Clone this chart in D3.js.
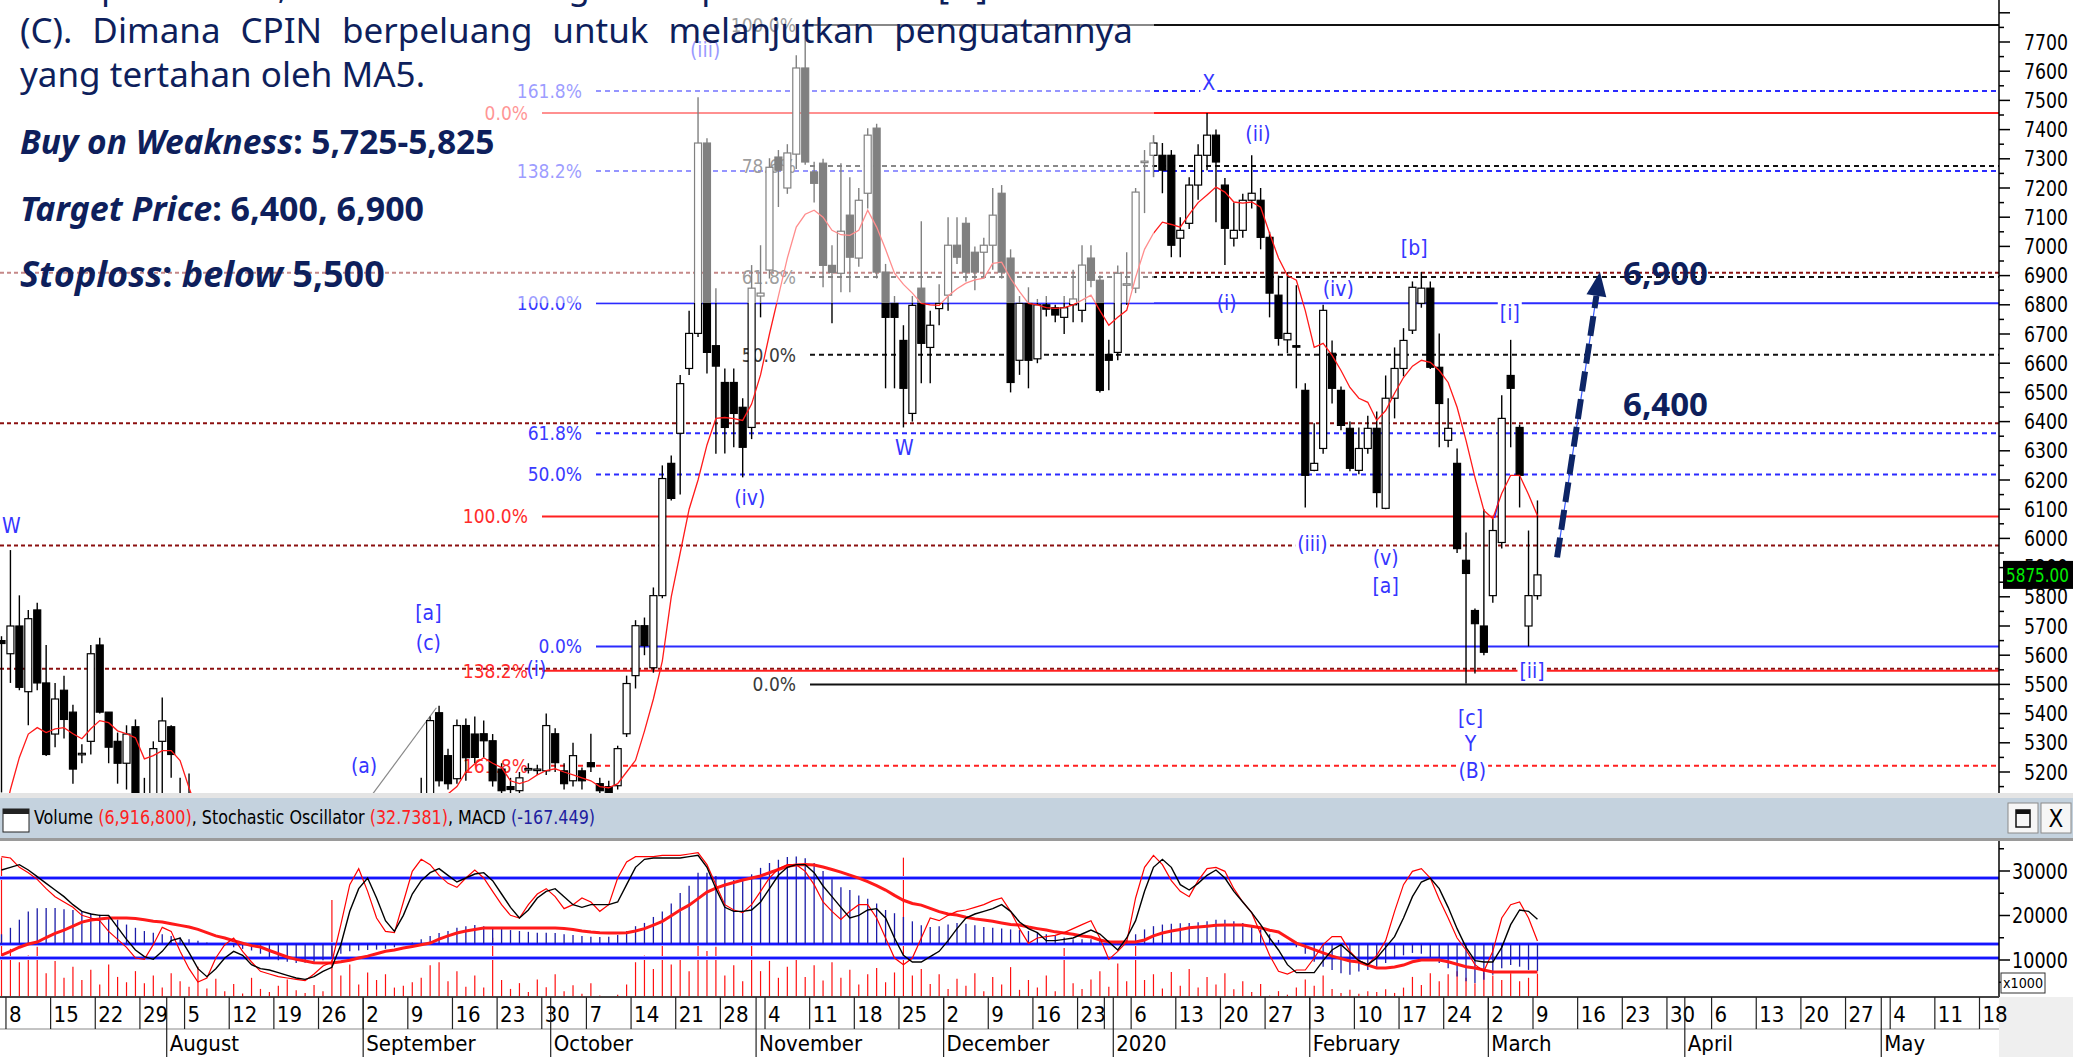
<!DOCTYPE html>
<html>
<head>
<meta charset="utf-8">
<script src="https://cdn.jsdelivr.net/npm/d3@7"></script>
<style>
  html, body { margin: 0; padding: 0; background: #fff; overflow: hidden; }
  svg { display: block; }
  text { white-space: pre; }
</style>
</head>
<body>
<svg id="chart" width="2073" height="1057"></svg>
<script>
// CPIN daily candles, 5 Jul 2019 .. 9 Mar 2020 (one value per trading day)
const open = [5650,5605,5700,5475,5755,5505,5330,5480,5405,5260,
  5305,5635,5405,5305,5230,5355,5110,5100,5305,5355,
  5100,5120,5030,4980,4930,5020,4990,5050,4970,4920,
  4950,4900,4870,4900,4860,4830,4850,4900,4980,5020,
  5060,5060,5080,5040,5010,5000,5060,5080,5110,5403,
  5256,5177,5359,5330,5331,5307,5210,5150,5136,5210,
  5205,5204,5331,5204,5170,5204,5232,5160,5150,5153,
  5331,5530,5701,5557,5804,6257,6360,6582,6702,7354,
  6660,6534,6534,6449,6380,6830,6919,7306,7200,7316,
  7611,7255,7285,6935,6908,7107,6960,7182,7405,6912,
  6805,6678,6428,6857,6654,6787,6833,7004,7079,6980,
  6980,7004,7182,6960,6610,6805,6615,6800,6790,6757,
  6800,6781,6960,6884,6630,6637,6867,6857,7288,7312,
  7312,7312,7028,7079,7210,7312,7381,7210,7028,7055,
  7158,7158,7031,6833,6680,6660,6507,6233,6308,6634,
  6507,6377,6233,6308,6377,6103,6480,6582,6713,6805,
  6857,6586,6336,6257,5925,5753,5700,5804,5986,6558,
  6380,5700,5804];
const high = [5665,5960,5805,5755,5780,5635,5505,5530,5430,5295,
  5635,5660,5405,5335,5360,5380,5180,5305,5455,5360,
  5180,5195,5080,5020,5050,5060,5080,5070,5000,4980,
  4990,4950,4920,4940,4900,4880,4920,5000,5050,5080,
  5110,5110,5110,5090,5060,5080,5110,5180,5390,5427,
  5280,5380,5383,5390,5376,5330,5230,5180,5200,5230,
  5225,5400,5350,5230,5300,5215,5331,5180,5170,5290,
  5530,5720,5729,5832,6250,6284,6560,6780,7511,7370,
  6857,6582,6582,6480,6936,7004,7302,7330,7350,7655,
  7758,7290,7300,7004,7285,7237,7200,7405,7420,6940,
  6830,6730,6830,7086,6780,6870,7100,7100,7100,7000,
  7030,7200,7210,6990,6830,6860,6820,6830,6800,6830,
  6920,7004,7004,6900,6680,6935,6980,7200,7330,7381,
  7354,7330,7100,7237,7350,7457,7400,7234,7150,7180,
  7312,7200,7050,6900,6912,6867,6531,6394,6800,6678,
  6520,6400,6380,6420,6435,6558,6654,6720,6880,6912,
  6880,6702,6480,6308,6020,5760,6100,6068,6490,6680,
  6390,6027,6130];
const low = [5130,5505,5480,5360,5480,5255,5285,5315,5160,5230,
  5260,5400,5230,5160,5140,5120,5050,5080,5100,5180,
  5050,5000,4950,4900,4920,4960,4980,4950,4900,4870,
  4880,4850,4820,4850,4800,4790,4820,4880,4950,4980,
  5040,5000,5020,4990,4970,4980,5040,5050,5100,5150,
  5140,5160,5170,5230,5250,5150,5100,5100,5120,5195,
  5190,5190,5200,5140,5150,5140,5200,5120,5110,5140,
  5320,5486,5600,5540,5795,6130,6150,6560,6690,6565,
  6290,6291,6312,6209,6340,6757,6890,7135,7180,7265,
  7280,7150,6860,6737,6843,6843,6930,7130,6890,6514,
  6514,6380,6400,6531,6531,6730,6780,6940,6880,6850,
  6890,6920,6890,6500,6560,6514,6600,6760,6740,6700,
  6740,6740,6860,6500,6507,6610,6800,6840,7114,7237,
  7182,6963,6963,7060,7160,7261,7083,6936,7000,7030,
  7130,6990,6757,6660,6634,6514,6106,6230,6290,6462,
  6370,6230,6220,6290,6106,6100,6411,6555,6700,6790,
  6580,6312,6312,5950,5503,5537,5600,5780,5965,6312,
  6106,5630,5790];
const close = [5640,5700,5490,5725,5505,5260,5450,5380,5210,5264,
  5605,5405,5285,5230,5330,5130,5100,5280,5375,5260,
  5080,5030,4980,4930,5020,4990,5050,4970,4920,4950,
  4900,4870,4900,4860,4830,4850,4900,4980,5020,5060,
  5090,5080,5040,5010,5000,5060,5090,5100,5376,5170,
  5160,5359,5249,5250,5307,5170,5136,5140,5180,5212,
  5210,5359,5232,5160,5256,5170,5218,5136,5125,5280,
  5503,5701,5633,5804,6205,6137,6530,6702,7354,6637,
  6590,6380,6428,6312,6857,6840,7271,7261,7320,7611,
  7289,7216,6935,6911,7052,6963,7158,7381,6912,6757,
  6757,6514,6798,6668,6730,6805,7004,6963,6912,6912,
  7004,7107,6912,6534,6805,6610,6800,6785,6765,6790,
  6820,6936,6884,6507,6610,6908,6872,7186,7292,7354,
  7261,7004,7055,7210,7312,7381,7289,7062,7055,7158,
  7182,7031,6840,6685,6702,6657,6216,6257,6781,6514,
  6387,6240,6308,6377,6157,6480,6582,6678,6860,6857,
  6586,6462,6377,5965,5880,5708,5610,6027,6411,6514,
  6216,5804,5875];
// red line drawn over the candles (MA5 as plotted)
const ma5 = [5000,5140,5250,5330,5352,5335,5348,5352,5331,5314,
  5348,5376,5369,5341,5331,5317,5245,5256,5273,5273,
  5239,5146,5060,5010,4990,4980,4990,4995,4980,4965,
  4955,4920,4900,4885,4875,4860,4870,4895,4940,4980,
  5020,5055,5065,5060,5045,5040,5050,5060,5100,5110,
  5125,5150,5200,5228,5249,5230,5215,5170,5160,5170,
  5190,5205,5211,5200,5190,5180,5170,5150,5146,5160,
  5200,5240,5340,5450,5580,5800,5950,6100,6200,6320,
  6411,6414,6410,6404,6460,6560,6700,6830,6960,7066,
  7110,7124,7100,7055,7040,7038,7055,7124,7066,6990,
  6908,6870,6840,6805,6800,6798,6830,6855,6874,6885,
  6891,6942,6946,6890,6845,6805,6800,6790,6788,6790,
  6800,6816,6833,6780,6730,6757,6781,6894,6990,7045,
  7083,7075,7066,7110,7150,7176,7203,7186,7152,7148,
  7152,7134,7045,6960,6900,6884,6780,6654,6668,6627,
  6575,6517,6480,6466,6404,6438,6497,6551,6590,6610,
  6603,6575,6534,6449,6336,6209,6096,6068,6154,6216,
  6216,6150,6078];
// volume in thousands of shares
const volume = [33000,12500,9500,11000,13000,7000,9800,6000,8500,5500,
  7800,4500,9000,6200,5000,7500,4800,6500,3800,7000,
  5200,4000,8500,3600,5800,3000,4600,2500,6000,3500,
  2800,4200,5600,3200,2600,4400,3000,23500,6500,9000,
  4500,7200,5500,6800,3800,4200,5000,6000,8800,9500,
  5200,7500,4000,6500,3800,15000,5500,3500,4800,2800,
  5600,3900,6800,3000,4300,2400,4800,2000,1800,2200,
  4500,9500,11000,8000,13800,9000,10500,7500,14000,12000,
  13000,6500,8800,5200,13800,7500,9800,6000,8500,10700,
  6200,8800,5400,9500,6000,7800,4500,6800,8200,5000,
  7200,33000,6500,8000,4600,6800,3500,5800,4200,7000,
  3000,6200,4500,8400,3300,5500,3800,6500,3000,12700,
  4800,3500,5600,7500,4000,9200,5200,14000,5500,6800,
  3600,7300,4200,8000,3800,6200,4500,7000,3400,5200,
  2800,4600,2000,3000,2200,3800,5600,4200,6500,3500,
  2600,3300,2400,3000,2800,3400,2600,3800,6200,4400,
  7000,5200,6800,7500,6000,4800,7200,6500,5500,7000,
  5200,6000,6917];
const stochK = [96,95,88,84,79,72,66,62,58,52,
  50,48,40,34,28,20,19,30,43,40,
  25,12,2,5,20,30,35,25,17,10,
  8,6,5,4,3,8,14,17,45,75,
  87,70,50,40,39,62,85,94,90,82,
  76,73,80,86,80,70,60,52,50,60,
  68,72,66,57,60,65,62,55,60,80,
  92,96,96,96,97,97,97,98,99,90,
  75,60,56,54,60,70,80,87,90,90,
  85,75,62,55,49,55,60,60,50,35,
  20,15,20,35,50,48,52,55,56,58,
  60,63,65,55,42,31,35,36,37,39,
  42,45,48,35,19,25,32,65,88,97,
  90,78,70,66,78,87,88,85,72,62,
  54,38,22,10,8,11,11,20,30,36,
  36,25,18,15,22,33,55,75,85,87,
  80,64,50,35,26,15,10,25,50,60,
  62,50,32.7];
const stochD = [86,88,90,86,81,76,71,66,60,55,
  53,52,52,43,34,26,21,19,25,33,
  35,24,12,6,12,20,25,22,15,12,
  11,9,7,5,4,6,10,13,30,55,
  72,80,65,48,40,52,68,78,84,87,
  82,77,80,83,84,78,68,58,50,56,
  65,70,72,66,60,58,60,60,60,62,
  75,88,94,95,95,95,95,96,97,88,
  72,58,55,55,56,62,72,82,88,90,
  90,84,74,66,58,50,52,56,57,50,
  35,22,17,17,21,25,33,42,50,53,
  55,57,60,55,47,42,39,33,33,34,
  35,38,41,38,32,26,35,48,70,88,
  94,88,75,71,76,82,86,80,70,62,
  54,45,35,26,15,9,9,9,18,26,
  30,24,18,15,20,28,36,50,66,77,
  80,72,58,42,28,18,17,17,28,45,
  56,55,49];
const macd = [60,100,150,200,220,222,222,215,210,200,
  190,180,170,150,120,100,80,70,60,50,
  40,30,20,10,0,-10,-20,-30,-40,-60,
  -80,-100,-110,-117,-115,-110,-100,-80,-60,-45,
  -40,-37,-35,-30,-20,-5,10,30,50,68,
  80,100,110,117,110,100,95,86,80,75,
  70,70,68,60,55,50,45,43,45,55,
  80,110,130,167,200,250,315,360,440,440,
  420,400,395,400,430,470,500,520,537,540,
  530,500,450,400,350,333,300,280,250,210,
  190,167,140,115,105,110,120,130,125,115,
  105,100,95,90,86,80,70,60,50,40,
  30,30,30,25,20,15,25,60,90,110,
  120,125,128,130,135,140,150,150,140,130,
  110,90,60,25,5,-20,-60,-110,-140,-160,
  -180,-190,-170,-160,-140,-117,-90,-70,-55,-60,
  -80,-117,-150,-200,-230,-240,-220,-190,-150,-130,
  -140,-160,-167];
const signal = [-68,-45,-20,0,12,40,65,86,110,135,
  148,155,160,160,160,158,150,140,136,125,
  115,105,90,70,50,37,20,5,-10,-19,
  -40,-60,-80,-95,-105,-115,-117,-117,-110,-100,
  -86,-75,-60,-45,-37,-25,-15,-5,6,30,
  50,68,80,90,99,99,99,99,99,99,
  99,99,99,95,90,80,74,70,68,68,
  70,80,95,117,140,175,210,240,280,320,
  345,364,380,395,407,420,440,460,480,488,
  490,488,475,460,444,425,407,385,360,333,
  300,270,250,240,220,200,185,179,165,155,
  148,140,130,120,117,105,95,86,75,68,
  60,50,43,25,12,12,12,12,25,50,
  68,80,90,100,105,110,115,117,117,117,
  110,100,85,74,40,6,-15,-35,-55,-75,
  -90,-105,-111,-130,-148,-148,-142,-130,-110,-99,
  -99,-99,-110,-125,-140,-148,-160,-173,-173,-173,
  -173,-173,-173];

// fibonacci / support-resistance levels
const blueFibLabels = ['161.8%', '138.2%', '100.0%', '61.8%', '50.0%', '0.0%'];
const blueFibLevels = [7532, 7258, 6805, 6360, 6219, 5630];
const redFibLabels = ['0.0%', '100.0%', '138.2%', '161.8%'];
const redFibLevels = [7457, 6075, 5547, 5221];
const blackFibLabels = ['100.0%', '78.6%', '61.8%', '50.0%', '0.0%'];
const blackFibLevels = [7758, 7275, 6895, 6629, 5500];
const stopLevels = [6910, 6394, 5976, 5554];

// elliott wave labels (bar index, price)
const waveText = ['W', '[a]', '(c)', '(a)', '(i)', '(iii)', '(iv)', 'W', 'X', '(ii)', '(i)', '(iv)', '[b]', '[i]', '(iii)', '(v)', '[a]', '[c]', 'Y', '(B)', '[ii]'];
const waveIdx = [1.1, 47.8, 47.8, 40.6, 59.9, 78.8, 83.8, 101.1, 135.2, 140.7, 137.2, 149.7, 158.2, 168.9, 146.8, 155, 155, 164.5, 164.5, 164.7, 171.4];
const wavePrice = [6044, 5746, 5643, 5222, 5554, 7676, 6140, 6312, 7563, 7388, 6809, 6857, 6997, 6774, 5983, 5935, 5839, 5386, 5297, 5204, 5547];

const priceTicks = d3.range(5200, 7701, 100);
const volTicks = [10000, 20000, 30000];
const holidays = ['2019-12-24', '2019-12-25', '2019-12-31', '2020-01-01'];
const monthNames = ['2020', 'February', 'March', 'April', 'May', 'June', 'July', 'August', 'September', 'October', 'November', 'December'];
const lastPrice = 5875;
const targets = ['6,900', '6,400'];
const targetLevels = [6910, 6460];

// ---------- layout ----------
const W = 2073, H = 1057;
const plotRight = 1999;
const priceBottom = 793;
const indTop = 841, indBottom = 997;
const NAVY = '#0e1f5c';
const NARROW = "'Liberation Sans Narrow', 'Arial Narrow', 'DejaVu Sans Condensed', sans-serif";
const NOTE = "'Noto Sans', 'Open Sans', sans-serif";
const STEP = 8.93;

function buildTradingDays(from, to, skip) {
  const out = [];
  const d = new Date(from + 'T00:00:00Z');
  const end = new Date(to + 'T00:00:00Z');
  while (d <= end) {
    const wd = d.getUTCDay();
    const s = d.toISOString().slice(0, 10);
    if (wd !== 0 && wd !== 6 && !skip.includes(s)) out.push(s);
    d.setUTCDate(d.getUTCDate() + 1);
  }
  return out;
}
const days = buildTradingDays('2019-07-01', '2020-05-19', holidays);
const firstBar = days.indexOf('2019-07-05');

const x = d3.scaleLinear().domain([0, 1]).range([1.5, 1.5 + STEP]);
const y = d3.scaleLinear().domain([5200, 7700]).range([772, 42]);
const yVol = d3.scaleLinear().domain([0, 30000]).range([1004.5, 871]);
const yStoch = d3.scaleLinear().domain([20, 80]).range([958, 878]);
const yMacd = d3.scaleLinear().domain([0, 100]).range([944, 927.8]);

const bars = open.map((o, i) => ({ i, o, h: high[i], l: low[i], c: close[i] }));

const svg = d3.select('#chart');
const defs = svg.append('defs');
defs.append('clipPath').attr('id', 'clipPrice').append('rect')
  .attr('x', 0).attr('y', 0).attr('width', plotRight).attr('height', priceBottom);
defs.append('clipPath').attr('id', 'clipInd').append('rect')
  .attr('x', 0).attr('y', indTop).attr('width', plotRight).attr('height', indBottom - indTop);

svg.append('rect').attr('width', W).attr('height', H).attr('fill', '#fff');

// ---------- price panel ----------
const gP = svg.append('g').attr('clip-path', 'url(#clipPrice)');

gP.append('g').selectAll('line').data(stopLevels).join('line')
  .attr('x1', 0).attr('x2', plotRight)
  .attr('y1', d => y(d)).attr('y2', d => y(d))
  .attr('stroke', '#8b1010').attr('stroke-width', 2).attr('stroke-dasharray', '4,3');

function fibSet(labels, levels, lineColor, textColor, x0, labelEnd, solidLabels) {
  const g = gP.append('g');
  g.selectAll('line').data(levels).join('line')
    .attr('x1', x0).attr('x2', plotRight)
    .attr('y1', d => y(d)).attr('y2', d => y(d))
    .attr('stroke', lineColor).attr('stroke-width', 2)
    .attr('stroke-dasharray', (d, k) => solidLabels.includes(labels[k]) ? null : '5,4');
  g.selectAll('text').data(levels).join('text')
    .attr('x', labelEnd).attr('y', d => y(d)).attr('dy', '0.36em')
    .attr('text-anchor', 'end').attr('fill', textColor)
    .style('font-family', NARROW).style('font-size', '19px')
    .text((d, k) => labels[k]);
}
fibSet(blueFibLabels, blueFibLevels, '#2b2bff', '#3a3aff', 596, 582, ['100.0%', '0.0%']);
fibSet(redFibLabels, redFibLevels, '#ff2020', '#ff2b2b', 542, 528, ['0.0%', '100.0%', '138.2%']);
fibSet(blackFibLabels, blackFibLevels, '#111', '#3a3a3a', 810, 796, ['100.0%', '0.0%']);

// trend lines
gP.append('line')
  .attr('x1', x(40)).attr('y1', y(5060)).attr('x2', x(48.7)).attr('y2', y(5420))
  .attr('stroke', '#888').attr('stroke-width', 1.2);
gP.append('line')
  .attr('x1', x(167.2)).attr('y1', y(6070)).attr('x2', x(168.3)).attr('y2', y(6215))
  .attr('stroke', '#2b2bff').attr('stroke-width', 1.5);

// candles
const gC = gP.append('g');
gC.selectAll('line').data(bars).join('line')
  .attr('x1', d => x(d.i)).attr('x2', d => x(d.i))
  .attr('y1', d => y(d.h)).attr('y2', d => y(d.l))
  .attr('stroke', '#000').attr('stroke-width', 1.4);
gC.selectAll('rect').data(bars).join('rect')
  .attr('x', d => x(d.i) - 3.5).attr('width', 7)
  .attr('y', d => y(Math.max(d.o, d.c)))
  .attr('height', d => Math.max(1.5, Math.abs(y(d.o) - y(d.c))))
  .attr('fill', d => d.c >= d.o ? '#fff' : '#000')
  .attr('stroke', '#000').attr('stroke-width', 1.2);

gP.append('path').datum(ma5)
  .attr('d', d3.line().x((d, i) => x(i)).y(d => y(d)))
  .attr('fill', 'none').attr('stroke', '#ff1a1a').attr('stroke-width', 1.3);

// wave labels
const waves = waveText.map((t, k) => ({ t, i: waveIdx[k], p: wavePrice[k], bg: t !== '(i)' }));
const gW = gP.append('g').style('font-family', NARROW).style('font-size', '21px');
waves.forEach(w => {
  const t = gW.append('text').attr('x', x(w.i)).attr('y', y(w.p)).attr('dy', '0.36em')
    .attr('text-anchor', 'middle').attr('fill', '#3535ff').text(w.t);
  if (w.bg) {
    const b = t.node().getBBox();
    gW.insert('rect', () => t.node())
      .attr('x', b.x - 2).attr('y', b.y + 1).attr('width', b.width + 4).attr('height', b.height - 2)
      .attr('fill', '#fff');
  }
});

// translucent note box
svg.append('rect').attr('x', 0).attr('y', 0).attr('width', 1154).attr('height', 303)
  .attr('fill', '#fff').attr('fill-opacity', 0.5);

// target arrow
const a0 = [x(174.2), y(5935)], a1 = [x(179), y(6912)];
const len = Math.hypot(a1[0] - a0[0], a1[1] - a0[1]);
const ux = (a1[0] - a0[0]) / len, uy = (a1[1] - a0[1]) / len;
const hb = [a1[0] - 24 * ux, a1[1] - 24 * uy];
svg.append('line').attr('x1', a0[0]).attr('y1', a0[1]).attr('x2', hb[0]).attr('y2', hb[1])
  .attr('stroke', '#3a5cff').attr('stroke-width', 1.2);
svg.append('line').attr('x1', a0[0]).attr('y1', a0[1]).attr('x2', hb[0]).attr('y2', hb[1])
  .attr('stroke', '#0d2566').attr('stroke-width', 6).attr('stroke-dasharray', '20,8');
svg.append('path')
  .attr('d', `M${a1[0]},${a1[1]}L${hb[0] - 10 * uy},${hb[1] + 10 * ux}L${hb[0] + 10 * uy},${hb[1] - 10 * ux}Z`)
  .attr('fill', '#0d2566');

svg.append('g').selectAll('text').data(targets).join('text')
  .attr('x', 1623).attr('y', (d, k) => y(targetLevels[k])).attr('dy', '0.36em')
  .attr('fill', NAVY).style('font-family', NOTE)
  .style('font-size', '33px').style('font-weight', 700).text(d => d);

// ---------- note text ----------
const gN = svg.append('g').attr('fill', NAVY).style('font-family', NOTE);
function justified(str, x0, x1, base) {
  const t = gN.append('text').attr('x', x0).attr('y', base).style('font-size', '35px').text(str);
  const w = t.node().getComputedTextLength();
  t.attr('word-spacing', (x1 - x0 - w) / (str.split(' ').length - 1));
}
justified('Kami perkirakan, saat ini CPIN sedang berada pada awal wave [iii] dari wave', 20, 1133, -1);
justified('(C). Dimana CPIN berpeluang untuk melanjutkan penguatannya', 20, 1133, 43);
gN.append('text').attr('x', 20).attr('y', 87).style('font-size', '35px').text('yang tertahan oleh MA5.');
function rich(parts, base, size) {
  const t = gN.append('text').attr('x', 20).attr('y', base).style('font-size', size + 'px').style('font-weight', 700);
  parts.forEach(([s, it]) => t.append('tspan').style('font-style', it ? 'italic' : 'normal').text(s));
}
rich([['Buy on Weakness', 1], [': 5,725-5,825', 0]], 154, 33.5);
rich([['Target Price', 1], [': 6,400, 6,900', 0]], 221, 34);
rich([['Stoploss', 1], [': ', 0], ['below', 1], [' 5,500', 0]], 287, 36);

// ---------- price axis ----------
const gA = svg.append('g').style('font-family', NARROW);
gA.append('line').attr('x1', plotRight).attr('x2', plotRight).attr('y1', 0).attr('y2', priceBottom)
  .attr('stroke', '#000').attr('stroke-width', 1.5);
gA.selectAll('line.t').data(d3.range(5150, 7801, 50)).join('line')
  .attr('x1', plotRight).attr('x2', d => plotRight + (d % 100 === 0 ? 11 : 5))
  .attr('y1', d => y(d)).attr('y2', d => y(d)).attr('stroke', '#000').attr('stroke-width', 1.5);
gA.selectAll('text').data(priceTicks).join('text')
  .attr('x', 2024).attr('y', d => y(d)).attr('dy', '0.36em').style('font-size', '21px')
  .attr('textLength', 44).attr('lengthAdjust', 'spacingAndGlyphs').text(d => d);
gA.append('rect').attr('x', 2003).attr('y', y(lastPrice) - 14).attr('width', 70).attr('height', 28).attr('fill', '#000');
gA.append('text').attr('x', 2006).attr('y', y(lastPrice)).attr('dy', '0.36em')
  .attr('fill', '#00ee00').style('font-size', '20px')
  .attr('textLength', 63).attr('lengthAdjust', 'spacingAndGlyphs').text(lastPrice.toFixed(2));

// ---------- indicator header ----------
svg.append('rect').attr('x', 0).attr('y', priceBottom).attr('width', W).attr('height', 5).attr('fill', '#e4e4e4');
svg.append('rect').attr('x', 0).attr('y', 798).attr('width', W).attr('height', 40).attr('fill', '#c4d2de');
svg.append('rect').attr('x', 0).attr('y', 838).attr('width', W).attr('height', 3).attr('fill', '#9a9a9a');
svg.append('rect').attr('x', 3).attr('y', 809).attr('width', 26).attr('height', 23).attr('fill', '#fff').attr('stroke', '#222');
svg.append('rect').attr('x', 3).attr('y', 809).attr('width', 26).attr('height', 5).attr('fill', '#222');
const hdr = svg.append('text').attr('x', 34).attr('y', 824).style('font-family', NARROW).style('font-size', '20px')
  .attr('textLength', 561).attr('lengthAdjust', 'spacingAndGlyphs');
[['Volume ', '#000'], ['(6,916,800)', '#ff2020'], [', Stochastic Oscillator ', '#000'], ['(32.7381)', '#ff2020'],
 [', MACD ', '#000'], ['(-167.449)', '#2020a0']].forEach(([s, c]) => hdr.append('tspan').attr('fill', c).text(s));
[2008, 2041].forEach((bx, k) => {
  svg.append('rect').attr('x', bx).attr('y', 803).attr('width', 30).attr('height', 30)
    .attr('fill', '#f6f6f6').attr('stroke', '#8a8a8a');
  if (k === 0) {
    svg.append('rect').attr('x', bx + 8).attr('y', 810).attr('width', 14).attr('height', 17).attr('fill', 'none').attr('stroke', '#111').attr('stroke-width', 1.5);
    svg.append('rect').attr('x', bx + 8).attr('y', 810).attr('width', 14).attr('height', 4).attr('fill', '#111');
  } else {
    svg.append('text').attr('x', bx + 15).attr('y', 827).attr('text-anchor', 'middle')
      .style('font-family', NARROW).style('font-size', '24px').text('X');
  }
});

// ---------- indicator panel ----------
const gI = svg.append('g').attr('clip-path', 'url(#clipInd)');
gI.append('g').selectAll('line').data(volume).join('line')
  .attr('x1', (d, i) => x(i)).attr('x2', (d, i) => x(i))
  .attr('y1', indBottom).attr('y2', d => yVol(d))
  .attr('stroke', '#ff1010').attr('stroke-width', 1.2);
[yStoch(80), yMacd(0), yStoch(20)].forEach(ly => {
  gI.append('line').attr('x1', 0).attr('x2', plotRight).attr('y1', ly).attr('y2', ly)
    .attr('stroke', '#9a9aff').attr('stroke-width', 4);
  gI.append('line').attr('x1', 0).attr('x2', plotRight).attr('y1', ly).attr('y2', ly)
    .attr('stroke', '#1414ff').attr('stroke-width', 2);
});
gI.append('g').selectAll('line').data(macd).join('line')
  .attr('x1', (d, i) => x(i)).attr('x2', (d, i) => x(i))
  .attr('y1', yMacd(0)).attr('y2', d => yMacd(d))
  .attr('stroke', '#1c1ca8').attr('stroke-width', 1.3);
gI.append('path').datum(signal)
  .attr('d', d3.line().x((d, i) => x(i)).y(d => yMacd(d)))
  .attr('fill', 'none').attr('stroke', '#ff1a1a').attr('stroke-width', 3);
gI.append('path').datum(stochK)
  .attr('d', d3.line().x((d, i) => x(i)).y(d => yStoch(d)))
  .attr('fill', 'none').attr('stroke', '#ff0000').attr('stroke-width', 1.2);
gI.append('path').datum(stochD)
  .attr('d', d3.line().x((d, i) => x(i)).y(d => yStoch(d)))
  .attr('fill', 'none').attr('stroke', '#000').attr('stroke-width', 1.4);

const gV = svg.append('g').style('font-family', NARROW);
gV.append('line').attr('x1', plotRight).attr('x2', plotRight).attr('y1', indTop).attr('y2', indBottom)
  .attr('stroke', '#000').attr('stroke-width', 1.5);
gV.selectAll('line.t').data([5000, 10000, 15000, 20000, 25000, 30000, 35000]).join('line')
  .attr('x1', plotRight).attr('x2', d => plotRight + (d % 10000 === 0 ? 11 : 5))
  .attr('y1', d => yVol(d)).attr('y2', d => yVol(d)).attr('stroke', '#000').attr('stroke-width', 1.5);
gV.selectAll('text').data(volTicks).join('text')
  .attr('x', 2012).attr('y', d => yVol(d)).attr('dy', '0.36em').style('font-size', '21px')
  .attr('textLength', 56).attr('lengthAdjust', 'spacingAndGlyphs').text(d => d);
gV.append('rect').attr('x', 2001).attr('y', 973).attr('width', 44).attr('height', 20).attr('fill', '#fff').attr('stroke', '#333');
gV.append('text').attr('x', 2003).attr('y', 988).style('font-size', '14px')
  .attr('textLength', 40).attr('lengthAdjust', 'spacingAndGlyphs').text('x1000');

// ---------- date axis ----------
const gD = svg.append('g').style('font-family', NARROW).style('font-size', '22px');
gD.append('rect').attr('x', plotRight).attr('y', indBottom).attr('width', W - plotRight).attr('height', H - indBottom).attr('fill', '#efefef');
gD.append('line').attr('x1', 0).attr('x2', plotRight).attr('y1', indBottom).attr('y2', indBottom).attr('stroke', '#444').attr('stroke-width', 2);
gD.append('line').attr('x1', 0).attr('x2', plotRight).attr('y1', 1029).attr('y2', 1029).attr('stroke', '#888').attr('stroke-width', 1);

const weeks = [], months = [];
days.forEach((s, k) => {
  const dt = new Date(s + 'T00:00:00Z');
  const i = k - firstBar;
  if (dt.getUTCDay() === 1 && i >= 0) weeks.push({ i, label: s === '2019-12-30' ? '' : String(dt.getUTCDate()) });
  if (k === 0 || days[k - 1].slice(5, 7) !== s.slice(5, 7)) {
    const m = dt.getUTCMonth();
    months.push({ i, label: monthNames[m] });
  }
});
gD.selectAll('line.w').data(weeks).join('line')
  .attr('x1', d => x(d.i) - STEP / 2).attr('x2', d => x(d.i) - STEP / 2)
  .attr('y1', indBottom).attr('y2', 1029).attr('stroke', '#222').attr('stroke-width', 1.2);
gD.selectAll('text.w').data(weeks).join('text')
  .attr('x', d => x(d.i) - STEP / 2 + 3).attr('y', 1022).text(d => d.label);
gD.selectAll('line.m').data(months).join('line')
  .attr('x1', d => x(d.i) - STEP / 2).attr('x2', d => x(d.i) - STEP / 2)
  .attr('y1', indBottom).attr('y2', H).attr('stroke', '#222').attr('stroke-width', 1.2);
gD.selectAll('text.m').data(months).join('text')
  .attr('x', d => x(d.i) - STEP / 2 + 3).attr('y', 1051).text(d => d.label);
</script>
</body>
</html>
